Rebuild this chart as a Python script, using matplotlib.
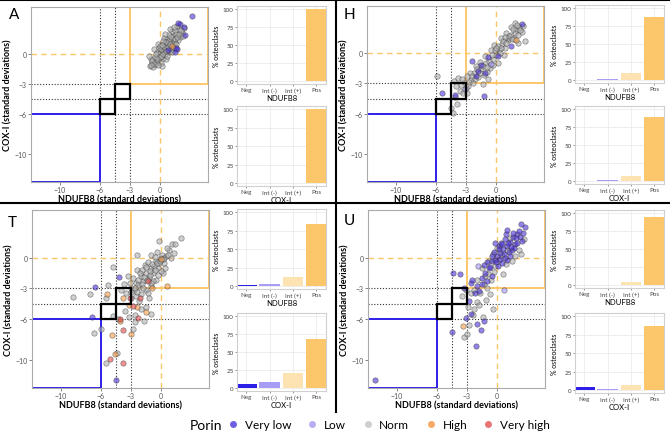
import numpy as np
import matplotlib
matplotlib.use('Agg')
import matplotlib.pyplot as plt
from matplotlib.patches import Rectangle
from matplotlib.lines import Line2D

plt.rcParams['font.family'] = ['Lato', 'DejaVu Sans']

W, H = 670, 435

# ---- scatter data (NDUFB8, COX-I) in standard deviations, per Porin class ----
A_norm = [(-1.0, -1.2), (-0.7, -1.3), (-0.4, -1.0), (-0.9, -0.5), (-0.5, -0.3), (-0.2, -0.6),
          (0.1, -0.9), (0.3, -0.4), (-0.3, 0.2), (0.0, 0.1), (0.2, 0.4), (0.5, 0.0), (0.6, 0.6),
          (0.3, 0.9), (0.8, 1.0), (1.0, 0.5), (1.1, 1.3), (0.7, 1.5), (1.3, 1.8), (1.5, 1.1),
          (1.6, 2.0), (1.2, 2.3), (1.9, 2.4), (2.0, 1.7), (0.9, 1.9), (-0.6, 0.5), (-0.2, 1.0),
          (0.4, 1.6), (1.4, 0.6), (0.0, -0.3), (-0.8, -0.9), (0.6, -0.5), (1.8, 1.4), (2.2, 2.1),
          (0.5, 1.2), (1.0, 2.5), (-0.1, 0.6), (0.9, 0.2), (1.7, 2.8), (1.3, 1.5), (-1.1, -0.2),
          (0.2, -1.2), (-0.4, -0.8), (0.4, 0.2), (1.1, 0.9), (0.7, 0.3), (1.5, 2.4), (2.4, 2.6),
          (-0.8, -0.7), (-0.6, -1.0), (-0.3, -0.4), (0.1, -0.2), (0.3, 0.0), (0.1, 0.5),
          (0.4, 0.7), (0.6, 0.3), (0.8, 0.7), (0.9, 1.3), (1.1, 1.7), (1.3, 1.1), (1.5, 1.5),
          (1.7, 1.7), (1.9, 2.0), (2.1, 2.4), (0.6, 1.2), (0.3, 1.3), (0.0, 0.8), (-0.4, 0.0),
          (0.7, -0.2), (1.2, 0.2), (1.6, 1.0), (2.3, 1.8), (0.5, 2.0), (1.4, 2.7), (-0.2, -1.1),
          (-0.9, -1.1), (0.2, 0.9), (1.0, 1.0)]
A_vlow = [(3.2, 3.8), (2.0, 3.0), (2.4, 2.7), (1.8, 3.1), (1.7, 0.5), (1.5, 0.2), (1.6, 0.6),
          (0.8, 0.4), (2.5, 1.9)]
A_low = []
A_high = [(1.2, 0.8)]
A_vhigh = []

H_norm = [(-5.9, -2.3), (-4.2, -2.8), (-3.8, -2.5), (-3.5, -3.2), (-3.2, -2.9), (-3.6, -3.8),
          (-4.1, -4.3), (-3.3, -4.0), (-2.8, -3.3), (-2.5, -2.7), (-2.2, -2.0), (-1.8, -2.4),
          (-1.5, -1.6), (-1.2, -2.2), (-1.0, -1.0), (-0.6, -1.5), (-0.3, -0.6), (0.0, -0.2),
          (0.3, 0.3), (0.6, 0.9), (0.9, 0.5), (1.2, 1.3), (1.5, 1.8), (1.8, 1.4), (2.0, 2.3),
          (2.3, 2.6), (2.6, 2.1), (1.0, 2.0), (0.5, 1.5), (-0.5, 0.3), (-1.6, -0.9), (-2.0, -1.3),
          (-2.6, -2.0), (-1.3, -3.1), (-0.8, -2.6), (-4.5, -5.4), (-3.9, -5.0), (2.9, 1.2),
          (1.9, 3.0), (0.2, -1.0), (-4.3, -5.9), (1.2, 1.5), (-0.2, 0.8), (0.8, -0.2),
          (-1.1, -0.3), (-2.9, -2.3), (2.2, 1.0), (1.5, 2.6), (-0.9, -1.9), (0.4, 0.0),
          (-3.0, -3.5), (-2.7, -2.9), (-2.4, -2.3), (-2.1, -2.6), (-1.9, -1.6), (-1.6, -2.0),
          (-1.3, -1.3), (-0.9, -1.4), (-0.7, -0.8), (-0.4, -0.2), (-0.1, 0.3), (0.2, 0.7),
          (0.5, 0.5), (0.7, 1.2), (1.0, 1.0), (1.3, 1.7), (1.6, 1.4), (1.9, 2.0), (2.2, 1.8),
          (2.4, 2.3), (2.1, 2.8), (1.7, 2.4), (0.9, 1.6), (-0.3, -1.2), (-2.3, -3.0),
          (-3.4, -2.6), (-4.0, -3.3), (-2.9, -4.0), (0.0, 0.5), (2.7, 2.7)]
H_vlow = [(-5.4, -4.0), (-4.1, -4.1), (-1.2, -4.2), (-2.4, -0.8), (-1.8, -1.8), (0.2, -0.3),
          (2.6, 2.9), (1.5, 0.7), (-0.8, -0.4), (-2.0, -2.3), (-1.1, -2.0), (-1.5, -1.2)]
H_low = [(-3.1, -3.6), (-0.5, -1.1)]
H_high = [(2.0, 1.3)]
H_vhigh = []

T_norm = [(-8.8, -3.9), (-7.1, -3.6), (-6.7, -7.4), (-5.5, -10.3), (-5.3, -2.7), (-5.5, -4.0),
          (-4.8, -0.9), (-4.8, -5.7), (-4.4, -9.4), (2.0, 1.9), (1.1, 1.4), (1.4, 1.4),
          (-0.2, 1.7), (-2.4, 0.3), (-1.7, -6.2), (-2.8, -7.0), (-3.0, -3.0), (-2.5, -2.5),
          (-2.0, -1.8), (-1.5, -1.5), (-1.0, -1.0), (-0.5, -0.3), (0.0, 0.0), (-2.8, -2.0),
          (-2.2, -2.9), (-1.8, -2.3), (-1.2, -2.0), (-0.8, -1.5), (-0.3, -1.0), (0.3, -0.5),
          (0.5, 0.2), (-1.6, -0.7), (-2.4, -1.2), (-3.3, -1.8), (-3.5, -3.5), (-3.0, -4.0),
          (-2.5, -3.8), (-2.0, -3.6), (-1.5, -3.2), (-1.0, -2.8), (-0.5, -2.2), (0.2, -1.5),
          (0.8, 0.8), (1.0, 0.0), (-1.0, 0.3), (-0.2, -0.5), (-4.0, -3.2), (-2.0, -5.0),
          (-1.5, -4.8), (-3.2, -5.8), (-4.3, -6.0), (-2.6, -5.6), (-1.9, -1.2), (-1.3, -0.4),
          (-0.7, -0.8), (-2.3, -2.2), (-1.1, -1.7), (-0.4, 0.6), (0.6, 1.0), (-3.7, -2.6),
          (-2.7, -3.2), (-2.3, -2.7), (-1.9, -2.6), (-1.7, -1.9), (-1.4, -2.2), (-1.1, -1.3),
          (-0.9, -0.6), (-0.6, -1.2), (-0.4, -0.5), (-0.1, -0.3), (0.1, 0.3), (0.3, 0.0),
          (-2.1, -1.5), (-2.6, -3.0), (-3.1, -2.5), (-1.3, -3.5), (-0.8, -2.3), (-0.3, -1.7),
          (0.4, -1.0), (-1.8, -3.0), (-2.2, -4.2), (-3.0, -3.4), (-1.5, -0.9), (-0.6, 0.1),
          (0.2, -0.1), (-1.0, -2.5), (-2.4, -3.4), (0.7, 0.3), (1.3, 0.5), (0.0, -1.3),
          (-2.6, -6.3), (-1.2, -4.0), (-3.6, -5.2), (-1.0, -5.5), (-6.0, -7.0)]
T_vlow = [(-6.6, -2.9), (-4.2, -1.9), (-6.9, -5.8), (-4.5, -12.0)]
T_low = []
T_high = [(-5.4, -3.6), (-3.8, -4.0), (-3.2, -4.6), (-4.9, -7.6), (-4.6, -9.5), (-3.0, -7.5),
          (-1.5, -5.3), (0.6, -2.8), (-2.4, -4.8), (-4.1, -6.2), (0.0, -0.1), (-0.9, -3.0)]
T_vhigh = [(-3.1, -4.0), (-3.8, -7.1), (-5.1, -9.9), (-3.8, -10.3), (-4.1, -6.0), (-2.8, -4.7),
           (-2.1, -4.0), (-1.3, -2.3), (-2.3, -5.9)]

U_norm = [(-3.3, -7.8), (-3.0, -7.5), (-2.8, -6.6), (-2.3, -5.0), (-2.0, -4.3), (-1.7, -3.5),
          (-2.6, -3.5), (-1.0, -3.0), (-0.6, -2.2), (-3.1, -3.2), (-2.0, -2.2), (-1.5, -1.0),
          (-0.8, -0.3), (-0.2, -0.8), (0.5, 0.3), (1.0, 0.8), (1.8, 0.2), (2.2, 0.8), (0.6, -1.6),
          (-1.2, -1.8), (2.7, 1.8), (0.0, 1.0), (-1.4, -5.8), (-0.7, -3.6), (-1.3, -2.6),
          (0.2, -0.2), (1.3, 1.9), (-0.4, 0.4), (-3.5, -3.8), (-2.9, -4.8), (-2.4, -5.6),
          (-1.8, -4.6), (-0.9, -1.6), (-0.3, -1.4), (0.9, -0.6), (1.5, -0.3), (2.4, 0.4),
          (-2.3, -3.2), (-1.1, -4.1), (-0.4, -5.0)]
U_vlow = [(-12.2, -12.0), (-2.1, -8.7), (-4.5, -7.3), (-1.6, -7.1), (-1.3, -6.2), (-2.0, -6.5),
          (-2.6, -5.5), (-3.1, -5.9), (-4.4, -1.5), (-3.7, -1.6), (-2.6, -2.5), (-2.5, -2.2),
          (-2.0, -2.8), (-1.5, -2.0), (-1.2, -1.5), (-0.8, -1.0), (-0.5, -0.3), (0.0, 0.2),
          (0.3, 0.5), (0.6, 0.9), (1.0, 1.2), (1.3, 1.6), (1.6, 2.0), (2.0, 2.3), (2.3, 2.0),
          (2.6, 2.4), (2.8, 3.0), (1.8, 1.4), (1.2, 0.6), (0.8, 1.8), (0.2, 1.2), (-0.3, 0.6),
          (-1.0, -0.4), (0.5, -0.5), (1.5, 0.8), (-2.2, -3.5), (-1.8, -3.3), (-3.3, -3.0),
          (-2.8, -4.2), (-0.5, -1.8), (0.1, -0.8), (1.0, -0.2), (2.0, 1.5), (0.9, 2.3),
          (-0.2, -0.2), (0.4, 1.5), (1.7, 1.0), (-1.0, -2.3), (-0.5, 0.2), (0.2, 0.9),
          (0.7, 0.4), (1.1, 1.5), (1.4, 1.1), (1.9, 1.9), (2.2, 2.6), (2.5, 1.7), (0.5, 1.4),
          (-0.1, -0.4), (0.3, -0.1), (1.6, 2.4), (1.0, 2.7), (2.4, 3.3), (-0.7, -0.9),
          (-1.3, -0.7), (0.8, 0.0), (1.3, 0.2), (-1.5, -2.6), (-0.2, 1.5)]
U_low = [(-1.9, -0.8), (0.7, -3.2)]
U_high = [(-3.4, -6.7)]
U_vhigh = []

# ---- bar data (% osteoclasts) ----
categories = ['Neg', 'Int (-)', 'Int (+)', 'Pos']
A_bar_ndufb8 = [0, 0, 0, 100]
A_bar_cox = [0, 0, 0, 100]
H_bar_ndufb8 = [0, 2, 10, 88]
H_bar_cox = [0, 2, 8, 89]
T_bar_ndufb8 = [2, 3, 13, 84]
T_bar_cox = [6, 9, 21, 68]
U_bar_ndufb8 = [1, 0, 5, 95]
U_bar_cox = [4, 2, 7, 87]

porin_labels = ['Very low', 'Low', 'Norm', 'High', 'Very high']
porin_cols = ['#4a30d6', '#9d92f0', '#b0b0b0', '#f59a45', '#e04a4a']
legend_cols = ['#6e5fe0', '#b6aef4', '#cfcfcf', '#f7aa66', '#e87575']
bar_cols = ['#2d1fe8', '#a89df5', '#fde2b2', '#fcc66b']

BLUE = '#2d1fe8'
ORANGE = '#fcc66b'
XL = (-12.85, 4.85)
YL = (-12.8, 4.7)


def frac(l, t, r, b):
    return [l / W, 1 - b / H, (r - l) / W, (b - t) / H]


def draw_scatter(ax, groups):
    x0, x1 = XL
    y0, y1 = YL
    dot = dict(color='#333333', lw=0.8, ls=(0, (1, 1.6)), zorder=1)
    ax.plot([-6, -6], [-6, y1], **dot)
    ax.plot([-4.5, -4.5], [y0, y1], **dot)
    ax.plot([-3, -3], [y0, -3], **dot)
    ax.plot([x0, -3], [-3, -3], **dot)
    ax.plot([x0, x1], [-4.5, -4.5], **dot)
    ax.plot([-6, x1], [-6, -6], **dot)
    ax.axvline(0, color=ORANGE, lw=1.0, ls=(0, (4, 3)), zorder=1)
    ax.axhline(0, color=ORANGE, lw=1.0, ls=(0, (4, 3)), zorder=1)
    ax.add_patch(Rectangle((-3, -3), x1 + 3, y1 + 3, fill=False, ec=ORANGE, lw=1.4, zorder=2))
    ax.add_patch(Rectangle((x0, y0), -6 - x0, -6 - y0, fill=False, ec=BLUE, lw=1.4, zorder=2))
    # grey first so coloured points sit on top
    for i in [2, 1, 0, 3, 4]:
        pts = groups[i]
        if len(pts) == 0:
            continue
        p = np.array(pts)
        ax.scatter(p[:, 0], p[:, 1], s=15, color=porin_cols[i], alpha=0.6,
                   edgecolors='#333333', linewidths=0.45, zorder=3)
    ax.add_patch(Rectangle((-6, -6), 1.5, 1.5, fill=False, ec='black', lw=1.6, zorder=5))
    ax.add_patch(Rectangle((-4.5, -4.5), 1.5, 1.5, fill=False, ec='black', lw=1.6, zorder=5))
    ax.set_xlim(XL)
    ax.set_ylim(YL)
    ax.set_xticks([-10, -6, -3, 0])
    ax.set_yticks([-10, -6, -3, 0])
    ax.tick_params(labelsize=5, colors='#555555', length=2, width=0.5, pad=1.2)
    for s in ax.spines.values():
        s.set_color('#aaaaaa')
        s.set_linewidth(0.8)
    ax.set_xlabel('NDUFB8 (standard deviations)', fontsize=6.5, fontweight='bold', labelpad=0.5)
    ax.set_ylabel('COX-I (standard deviations)', fontsize=6.5, fontweight='bold', labelpad=1.5)


def draw_bars(ax, vals, xlabel):
    ax.bar(range(4), vals, width=0.88, color=bar_cols, zorder=2)
    ax.set_xlim(-0.4, 3.42)
    ax.set_ylim(-3.5, 104.5)
    ax.set_xticks(range(4))
    ax.set_xticklabels(categories)
    ax.set_yticks([0, 25, 50, 75, 100])
    ax.grid(True, color='#ebebeb', lw=0.6, zorder=0)
    ax.set_axisbelow(True)
    ax.tick_params(labelsize=4.5, colors='#444444', length=1.5, width=0.4, pad=1)
    for s in ax.spines.values():
        s.set_color('#d0d0d0')
        s.set_linewidth(0.8)
    ax.set_ylabel('% osteoclasts', fontsize=5, labelpad=2)
    ax.set_xlabel(xlabel, fontsize=5.5, labelpad=1)


fig = plt.figure(figsize=(W / 100, H / 100), dpi=100)

panels = [
    ('A', 31, 8, 183, 237, 7, 85, 107, 187,
     [A_vlow, A_low, A_norm, A_high, A_vhigh], A_bar_ndufb8, A_bar_cox, (9, 15)),
    ('H', 367, 7, 183, 575, 6, 84, 107, 185,
     [H_vlow, H_low, H_norm, H_high, H_vhigh], H_bar_ndufb8, H_bar_cox, (344, 15)),
    ('T', 32, 211, 389, 237, 210, 290, 314, 392,
     [T_vlow, T_low, T_norm, T_high, T_vhigh], T_bar_ndufb8, T_bar_cox, (8, 223)),
    ('U', 368, 211, 389, 575, 211, 289, 314, 394,
     [U_vlow, U_low, U_norm, U_high, U_vhigh], U_bar_ndufb8, U_bar_cox, (344, 221)),
]

for (lab, sl, st, sb, bl, t1, b1, t2, b2, groups, bn, bc, lpos) in panels:
    ax = fig.add_axes(frac(sl, st, sl + 177, sb))
    draw_scatter(ax, groups)
    axb1 = fig.add_axes(frac(bl, t1, bl + 89, b1))
    draw_bars(axb1, bn, 'NDUFB8')
    axb2 = fig.add_axes(frac(bl, t2, bl + 89, b2))
    draw_bars(axb2, bc, 'COX-I')
    fig.text(lpos[0] / W, 1 - lpos[1] / H, lab, fontsize=11, va='center', ha='left')

# panel dividers
fig.add_artist(Line2D([0, 1], [1 - 1 / H, 1 - 1 / H], color='black', lw=1.5))
fig.add_artist(Line2D([0, 1], [1 - 204 / H, 1 - 204 / H], color='black', lw=1.5))
fig.add_artist(Line2D([336 / W, 336 / W], [1 - 413 / H, 1], color='black', lw=1.5))

# legend
handles = [Line2D([], [], ls='none', marker='o', markersize=5, color=c, markeredgewidth=0)
           for c in legend_cols]
fig.text(190 / W, 1 - 426 / H, 'Porin', fontsize=10, va='center', ha='left')
fig.legend(handles, porin_labels, loc='center left', bbox_to_anchor=(227 / W, 1 - 426 / H),
           ncol=5, frameon=False, fontsize=8.5, handletextpad=0.5, columnspacing=1.3,
           handlelength=1.0, borderaxespad=0, borderpad=0)

fig.savefig('out.png', dpi=100)
